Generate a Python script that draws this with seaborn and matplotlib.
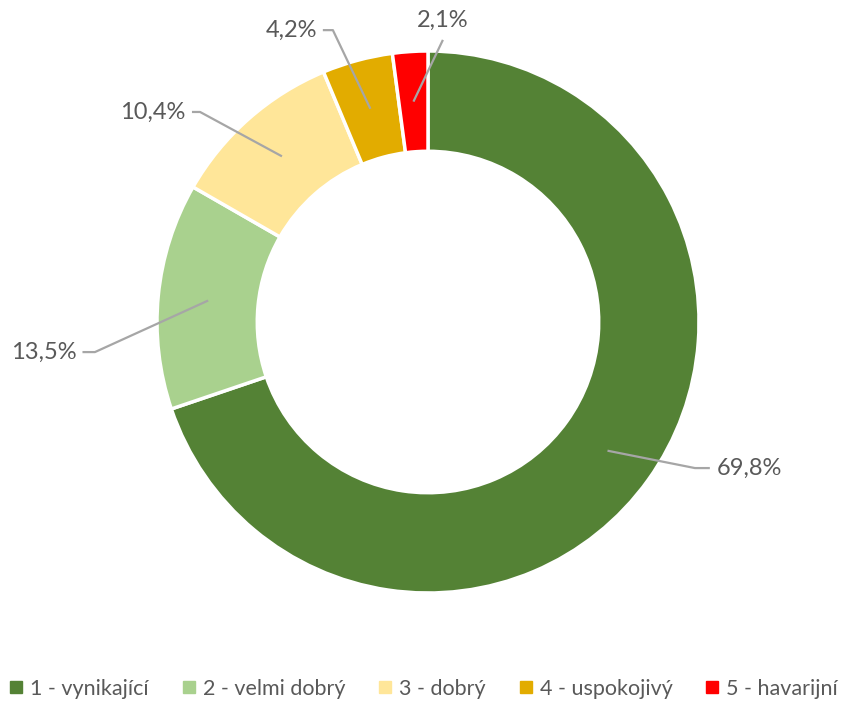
import matplotlib
matplotlib.use('Agg')
import matplotlib.pyplot as plt
import seaborn as sns
import numpy as np
from matplotlib.lines import Line2D

# data
kategorie = ['1 - vynikající', '2 - velmi dobrý', '3 - dobrý', '4 - uspokojivý', '5 - havarijní']
podily = [69.8, 13.5, 10.4, 4.2, 2.1]
popisky = ['69,8%', '13,5%', '10,4%', '4,2%', '2,1%']
barvy = ['#548235', '#A9D18E', '#FFE699', '#E2AC00', '#FF0000']

sns.set_theme(style='white')
plt.rcParams['font.family'] = ['Lato', 'DejaVu Sans']

W, H = 847, 702
R_PX = 271.0
CX, CY = 428.0, 322.0
fig = plt.figure(figsize=(W / 100, H / 100), dpi=100)
ax = fig.add_axes([0, 0, 1, 1])

kruh = 0.37
wedges, _ = ax.pie(podily, colors=barvy, startangle=90, counterclock=False,
                   radius=1.0, wedgeprops=dict(width=kruh, edgecolor='white', linewidth=2.5))

ax.set_xlim(-CX / R_PX, (W - CX) / R_PX)
ax.set_ylim(-(H - CY) / R_PX, CY / R_PX)
ax.axis('off')

# leader layout: (elbow, line end, text pos, ha) in radius units
rozvrzeni = [
    ((0.985, -0.539), (1.04, -0.539), (1.065, -0.539), 'left'),
    ((-1.229, -0.111), (-1.275, -0.111), (-1.295, -0.111), 'right'),
    ((-0.841, 0.775), (-0.871, 0.775), (-0.895, 0.775), 'right'),
    ((-0.351, 1.077), (-0.388, 1.077), (-0.410, 1.077), 'right'),
    ((0.055, 1.041), (0.055, 1.041), (0.055, 1.112), 'center'),
]

r_mid = 1.0 - kruh / 2
for w, txt, (loket, konec, tpos, ha) in zip(wedges, popisky, rozvrzeni):
    uhel = np.deg2rad((w.theta1 + w.theta2) / 2)
    start = (r_mid * np.cos(uhel), r_mid * np.sin(uhel))
    ax.plot([start[0], loket[0], konec[0]], [start[1], loket[1], konec[1]],
            color='#A6A6A6', linewidth=1.6, solid_capstyle='butt', zorder=5)
    ax.text(tpos[0], tpos[1], txt, ha=ha, va='center', fontsize=17, color='#595959')

handles = [Line2D([0], [0], marker='s', linestyle='', markersize=8,
                  markerfacecolor=c, markeredgecolor=c) for c in barvy]
fig.legend(handles, kategorie, loc='center', bbox_to_anchor=(0.5, 13 / H), ncol=5,
           frameon=False, fontsize=15.5, labelcolor='#595959', handlelength=0.7,
           handletextpad=0.3, columnspacing=1.5, borderaxespad=0, borderpad=0)

plt.savefig('out.png', dpi=100)
plt.close()
